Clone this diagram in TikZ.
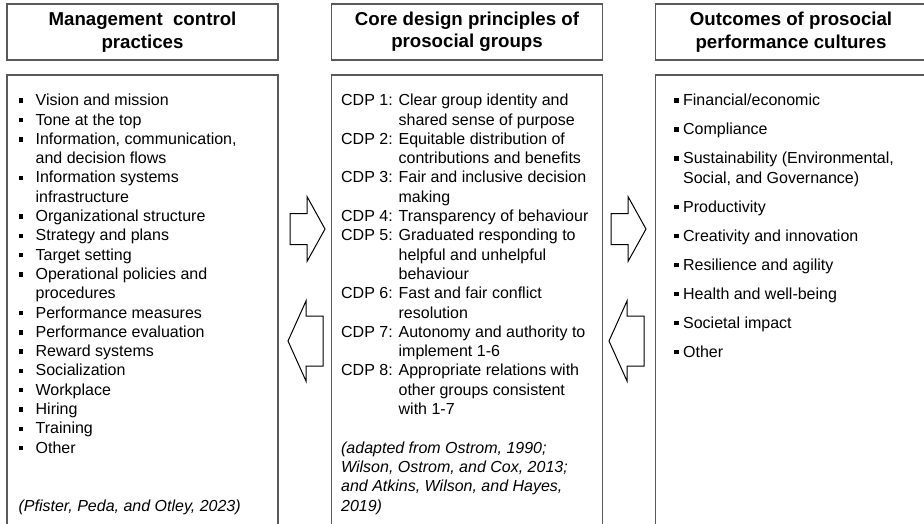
\documentclass[tikz,border=0pt]{standalone}
\usepackage{fontspec}
\setmainfont{Liberation Sans}
\usepackage{tikz}
\usetikzlibrary{positioning}

\definecolor{boxline}{RGB}{89,89,89}
% square bullets and hanging indents for the lists
\newcommand{\sqbul}{\makebox[17pt][l]{\rule[2.8pt]{4.5pt}{4.5pt}}}
\newcommand{\sqind}{\hspace*{17pt}}
\newcommand{\outbul}{\makebox[9pt][l]{\rule[2.8pt]{4.5pt}{4.5pt}}}
\newcommand{\cdpind}{\phantom{CDP 0: }}
% hollow block arrow: tail x, mid y, direction, half shaft, half head
\newcommand{\fatarrow}[5]{%
  \draw[blockarrow, shift={(#1,#2)}, xscale=#3]
    (0,-#4) -- (17,-#4) -- (17,-#5) -- (35,0) -- (17,#5) -- (17,#4)
    -- (0,#4) -- cycle;}

\begin{document}
\begin{tikzpicture}[
    x=1pt, y=-1pt,
    headbox/.style={draw=boxline, line width=1.1pt, minimum width=271pt,
                    minimum height=56pt, inner sep=0pt, align=center,
                    font=\fontsize{18.67}{22.4}\selectfont\bfseries},
    listbox/.style={draw=boxline, line width=1.1pt, minimum width=271pt,
                    minimum height=470pt, inner sep=0pt},
    listtext/.style={inner sep=0pt, align=left,
                     font=\fontsize{16}{19.3}\selectfont,
                     execute at begin node=\strut},
    blockarrow/.style={draw=black, line width=1pt, fill=white},
  ]
  \clip (0,0) rectangle (924,523);

  % ── Row 0: headers ──
  \node[headbox] at (142.5, 32) (mcphead)
    {Management\ \ control\\practices};
  \node[headbox] at (467, 32) (cdphead)
    {Core design principles of\\prosocial groups};
  \node[headbox] at (791, 32) (outhead)
    {Outcomes of prosocial\\performance cultures};

  % ── Row 1: list boxes ──
  \node[listbox] at (142.5, 310) (mcpbox) {};
  \node[listbox] at (467, 310) (cdpbox) {};
  \node[listbox] at (791, 310) (outbox) {};

  % management control practices
  \node[listtext, below right=19.5pt and 12pt of mcpbox.north west] (mcplist)
    {\sqbul Vision and mission\\
     \sqbul Tone at the top\\
     \sqbul Information, communication,\\
     \sqind and decision flows\\
     \sqbul Information systems\\
     \sqind infrastructure\\
     \sqbul Organizational structure\\
     \sqbul Strategy and plans\\
     \sqbul Target setting\\
     \sqbul Operational policies and\\
     \sqind procedures\\
     \sqbul Performance measures\\
     \sqbul Performance evaluation\\
     \sqbul Reward systems\\
     \sqbul Socialization\\
     \sqbul Workplace\\
     \sqbul Hiring\\
     \sqbul Training\\
     \sqbul Other\\[38.6pt]
     \textit{(Pfister, Peda, and Otley, 2023)}};

  % core design principles
  \node[listtext, below right=19.5pt and 10pt of cdpbox.north west] (cdplist)
    {CDP 1: Clear group identity and\\
     \cdpind shared sense of purpose\\
     CDP 2: Equitable distribution of\\
     \cdpind contributions and benefits\\
     CDP 3: Fair and inclusive decision\\
     \cdpind making\\
     CDP 4: Transparency of behaviour\\
     CDP 5: Graduated responding to\\
     \cdpind helpful and unhelpful\\
     \cdpind behaviour\\
     CDP 6: Fast and fair conflict\\
     \cdpind resolution\\
     CDP 7: Autonomy and authority to\\
     \cdpind implement 1-6\\
     CDP 8: Appropriate relations with\\
     \cdpind other groups consistent\\
     \cdpind with 1-7\\[19.3pt]
     \textit{(adapted from Ostrom, 1990;}\\
     \textit{Wilson, Ostrom, and Cox, 2013;}\\
     \textit{and Atkins, Wilson, and Hayes,}\\
     \textit{2019)}};

  % outcomes
  \node[listtext, below right=19.5pt and 19pt of outbox.north west] (outlist)
    {\outbul Financial/economic\\[9.7pt]
     \outbul Compliance\\[9.7pt]
     \outbul Sustainability (Environmental,\\
     \hspace*{9pt}Social, and Governance)\\[9.7pt]
     \outbul Productivity\\[9.7pt]
     \outbul Creativity and innovation\\[9.7pt]
     \outbul Resilience and agility\\[9.7pt]
     \outbul Health and well-being\\[9.7pt]
     \outbul Societal impact\\[9.7pt]
     \outbul Other};

  % ── Block arrows between the boxes ──
  \fatarrow{290}{229}{1}{15.5}{32.5}
  \fatarrow{323}{341}{-1}{25}{40}
  \fatarrow{611}{229}{1}{15.5}{32.5}
  \fatarrow{644}{341}{-1}{25}{40}

\end{tikzpicture}
\end{document}
